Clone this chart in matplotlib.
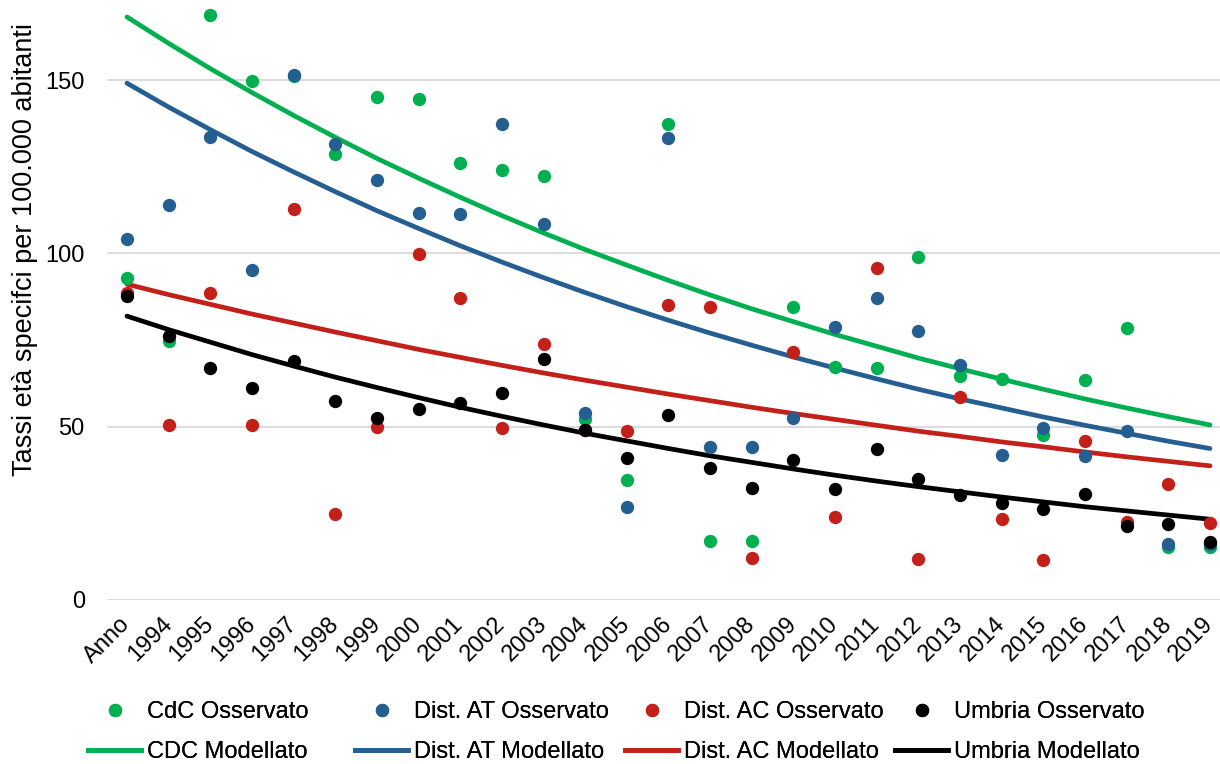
import matplotlib
matplotlib.use("Agg")
import matplotlib.pyplot as plt
from matplotlib.lines import Line2D

categories = ["Anno"] + [str(y) for y in range(1994, 2020)]

cdc_obs = [92.8, 74.7, 168.7, 149.6, 151.2, 128.6, 145.1, 144.5, 126.0, 124.0, 122.3, 52.1, 34.5, 137.2,
           17.0, 17.0, 84.4, 67.1, 66.8, 98.9, 64.7, 63.9, 47.5, 63.4, 78.4, 15.4, 15.2]
at_obs = [104.2, 114.1, 133.5, 95.3, 151.4, 131.5, 121.1, 111.6, 111.3, 137.3, 108.5, 54.0, 26.7, 133.3,
          44.1, 44.1, 52.5, 78.7, 87.1, 77.5, 67.9, 41.7, 49.6, 41.4, 48.8, 16.2, 16.1]
ac_obs = [88.5, 50.4, 88.5, 50.4, 112.8, 24.9, 49.8, 99.8, 87.2, 49.5, 74.0, 49.0, 48.7, 85.1,
          84.6, 12.0, 71.6, 23.9, 95.8, 11.7, 58.5, 23.3, 11.4, 46.0, 22.6, 33.5, 22.2]
umb_obs = [87.7, 76.3, 67.0, 61.1, 69.0, 57.5, 52.6, 55.1, 56.7, 59.7, 69.5, 49.0, 41.0, 53.3,
           38.0, 32.3, 40.4, 32.0, 43.6, 34.8, 30.4, 28.0, 26.2, 30.5, 21.3, 21.9, 16.8]

cdc_mod = [168.2, 160.6, 153.3, 146.4, 139.8, 133.5, 127.4, 121.7, 116.2, 110.9, 105.9, 101.1, 96.6, 92.2,
           88.0, 84.0, 80.3, 76.6, 73.2, 69.8, 66.7, 63.7, 60.8, 58.0, 55.4, 52.9, 50.5]
at_mod = [149.1, 142.2, 135.7, 129.4, 123.5, 117.8, 112.3, 107.2, 102.2, 97.5, 93.0, 88.7, 84.6, 80.7,
          77.0, 73.5, 70.1, 66.9, 63.8, 60.8, 58.0, 55.4, 52.8, 50.4, 48.1, 45.8, 43.7]
ac_mod = [91.1, 88.1, 85.3, 82.5, 79.9, 77.3, 74.8, 72.3, 70.0, 67.7, 65.5, 63.4, 61.4, 59.4,
          57.5, 55.6, 53.8, 52.1, 50.4, 48.7, 47.2, 45.6, 44.2, 42.7, 41.3, 40.0, 38.7]
umb_mod = [81.9, 78.0, 74.4, 70.8, 67.5, 64.3, 61.3, 58.4, 55.6, 53.0, 50.5, 48.1, 45.9, 43.7,
           41.6, 39.7, 37.8, 36.0, 34.3, 32.7, 31.2, 29.7, 28.3, 26.9, 25.7, 24.5, 23.3]

obs_labels = ["CdC Osservato", "Dist. AT Osservato", "Dist. AC Osservato", "Umbria Osservato"]
mod_labels = ["CDC Modellato", "Dist. AT Modellato", "Dist. AC Modellato", "Umbria Modellato"]
yticks = [0, 50, 100, 150]

colors = ["#00B050", "#255E91", "#C3201A", "#000000"]

plt.rcParams['font.family'] = ['Liberation Sans', 'DejaVu Sans']
FS = 17
FS_LABEL = 19.5

W, H = 1220, 764
fig = plt.figure(figsize=(W / 100, H / 100), dpi=100)
ax = fig.add_axes([107 / W, (H - 600) / H, (W - 107) / W, 600 / H])

x = list(range(len(categories)))
for vals, c in zip([cdc_mod, at_mod, ac_mod, umb_mod], colors):
    ax.plot(x, vals, color=c, lw=3.4, solid_capstyle='round', zorder=3)
for vals, c in zip([cdc_obs, at_obs, ac_obs, umb_obs], colors):
    ax.plot(x, vals, linestyle='none', marker='o', ms=9.6, color=c, mec='none', zorder=4)

ax.set_xlim(-0.48, 26.24)
ax.set_ylim(0, 173.1)
ax.set_yticks(yticks)
ax.set_yticklabels([str(v) for v in yticks], fontsize=FS)
ax.set_xticks(x)
ax.set_xticklabels(categories, fontsize=FS, rotation=45, ha='right', va='center',
                   rotation_mode='anchor')
ax.tick_params(axis='both', length=0)
ax.tick_params(axis='y', pad=16)
ax.tick_params(axis='x', pad=15)
for s in ax.spines.values():
    s.set_visible(False)
ax.grid(axis='y', color='#D9D9D9', lw=1.3)
ax.set_axisbelow(True)

fig.text(25 / W, 1 - 250 / H, "Tassi età specifci per 100.000 abitanti", rotation=90,
         ha='center', va='center', fontsize=FS_LABEL)

col_x = [88, 355, 625, 895]
rows_y = [712, 752]
for i in range(4):
    h1 = Line2D([], [], linestyle='none', marker='o', ms=9.6, color=colors[i], mec='none')
    h2 = Line2D([], [], color=colors[i], lw=3.4)
    for h, lab, ry in [(h1, obs_labels[i], rows_y[0]), (h2, mod_labels[i], rows_y[1])]:
        lg = fig.legend([h], [lab], loc='center left',
                        bbox_to_anchor=(col_x[i] / W, 1 - ry / H),
                        frameon=False, fontsize=FS, borderpad=0, borderaxespad=0,
                        handlelength=2.25, handletextpad=0.25)
        fig.add_artist(lg)

fig.savefig("out.png", dpi=100)
